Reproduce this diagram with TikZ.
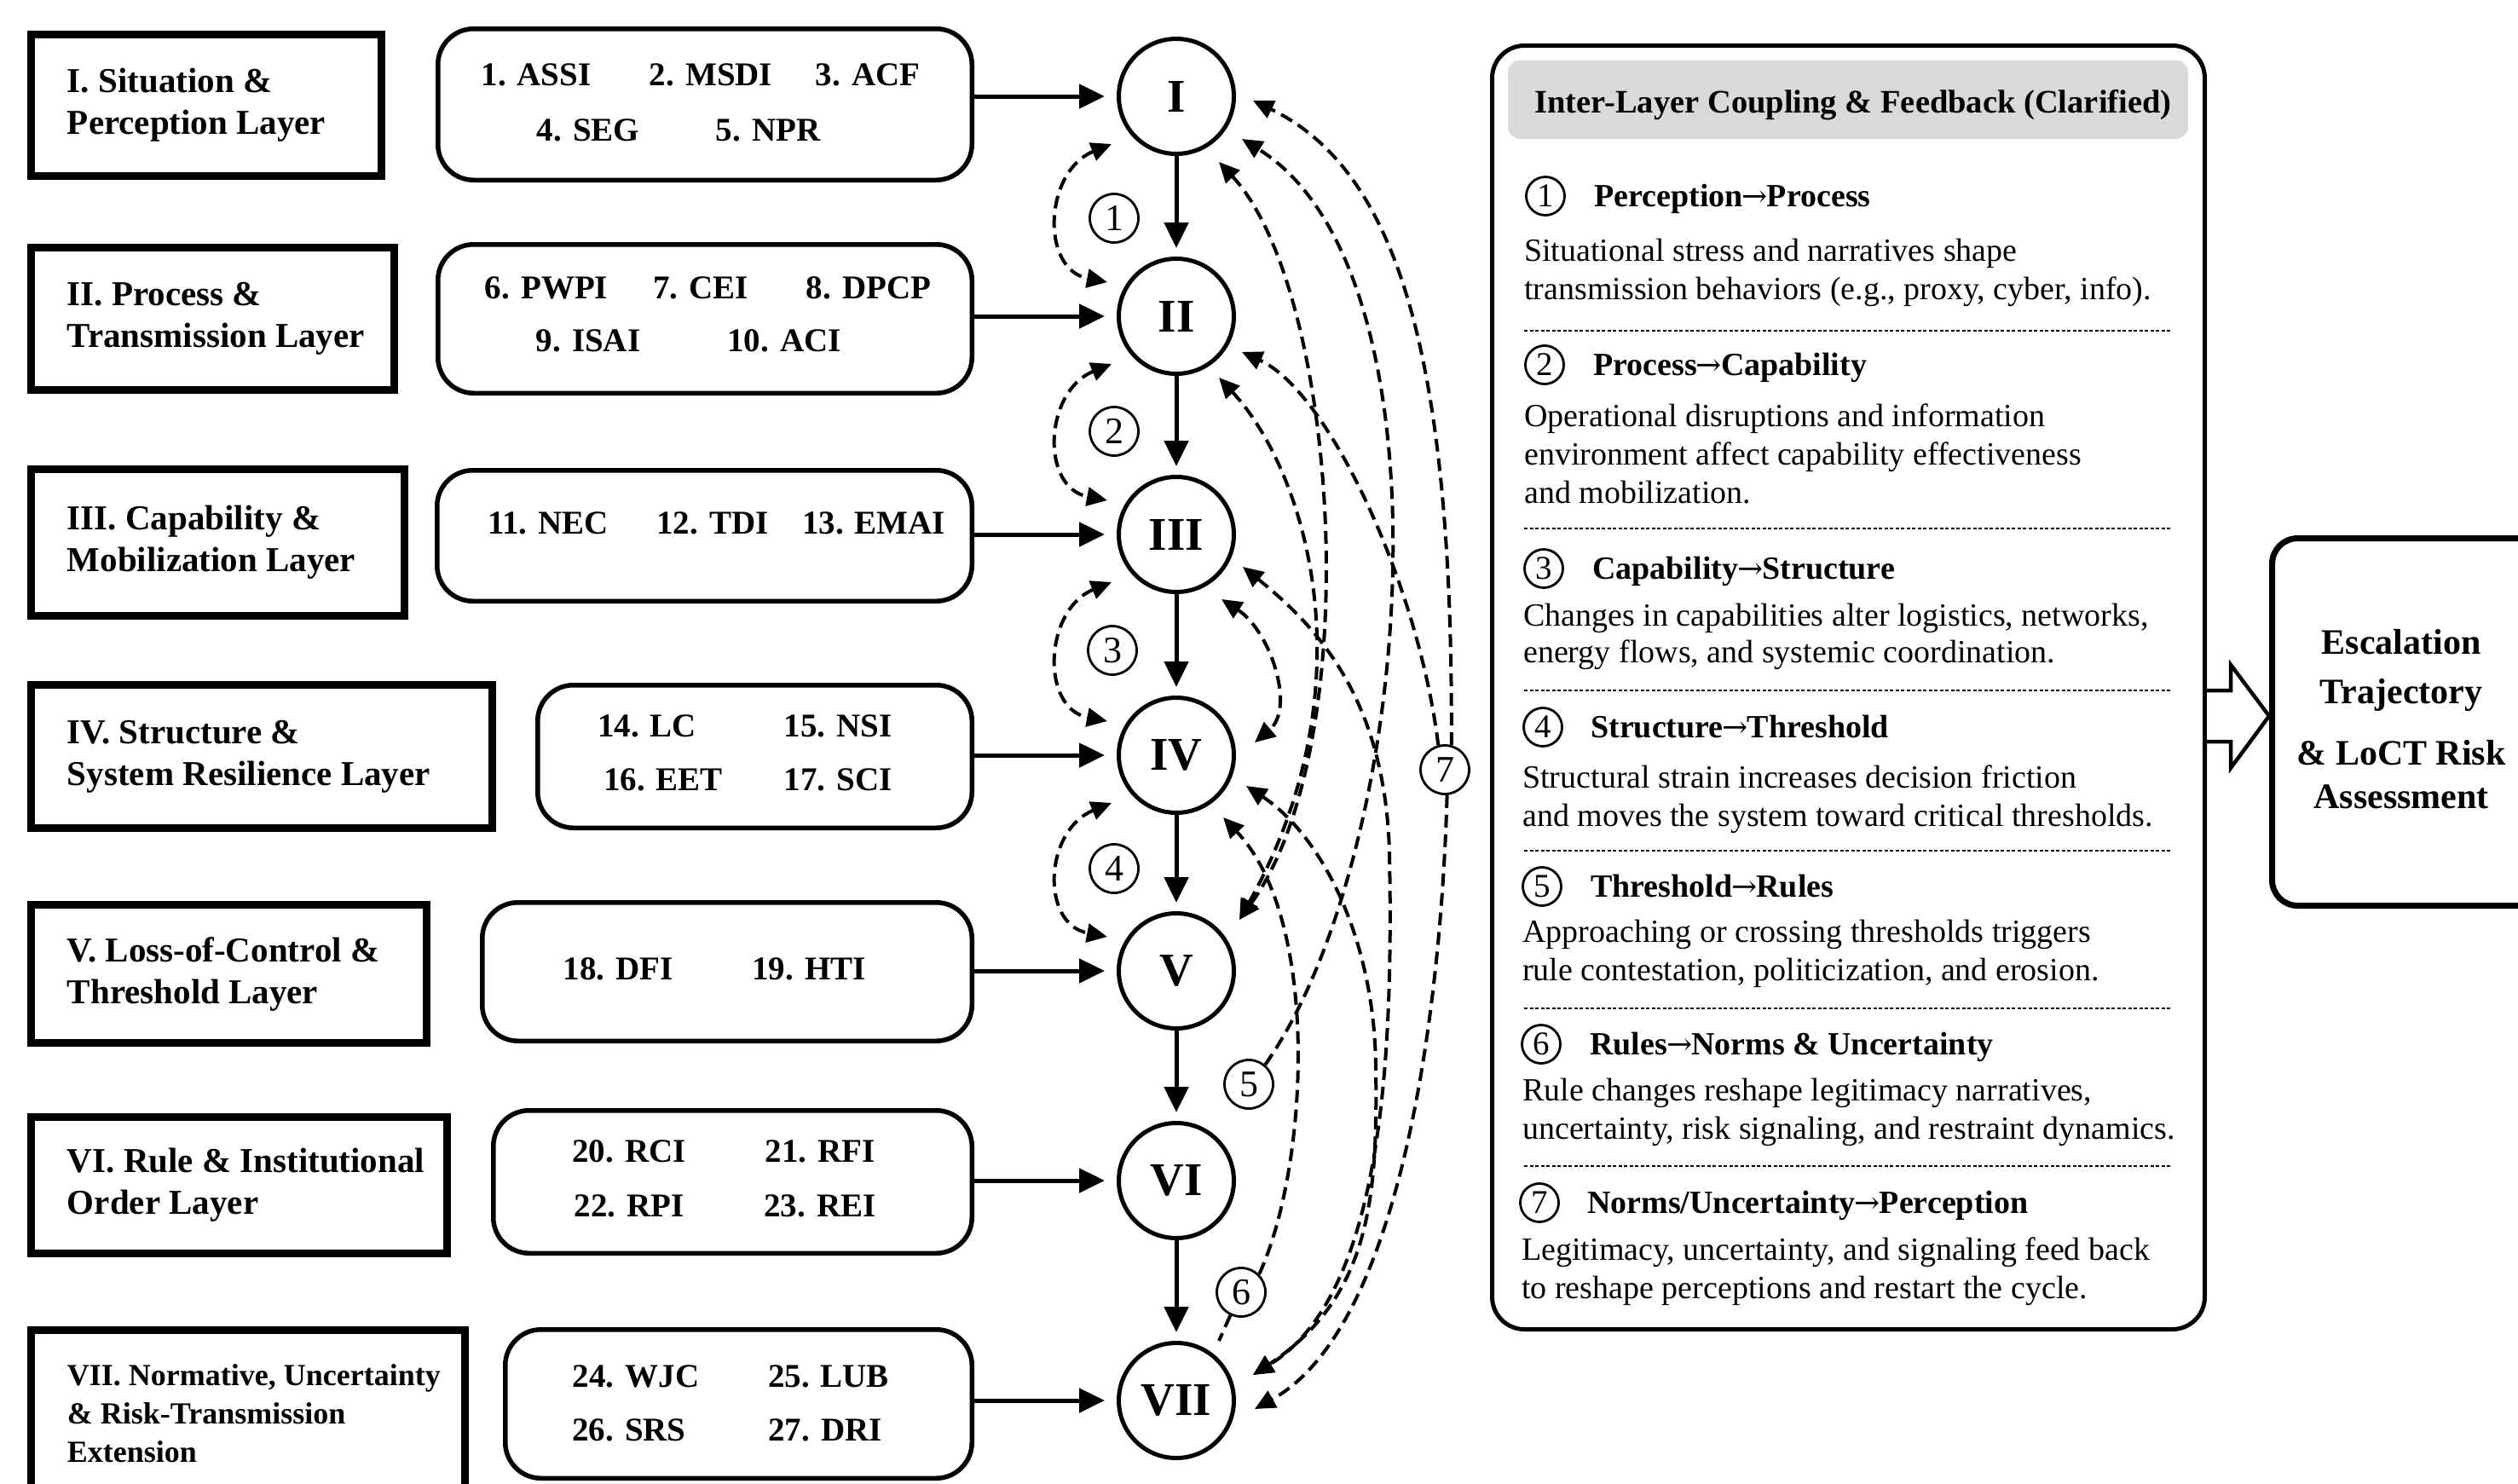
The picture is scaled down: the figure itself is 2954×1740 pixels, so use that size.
\documentclass[tikz,border=0pt]{standalone}
\usepackage{fontspec}
\setmainfont{Liberation Serif}
\newfontfamily\arrowfont{DejaVu Serif}
\usetikzlibrary{arrows.meta,calc}
\newcommand{\ra}{{\arrowfont\mdseries\fontsize{36}{40}\selectfont\kern-1pt →\kern-1pt}}
\tikzset{
 layerbox/.style={draw, line width=9.5pt, inner sep=0pt},
 layertext/.style={anchor=west, align=left, inner sep=0pt, font=\fontsize{41}{49}\selectfont\bfseries},
 idxbox/.style={draw, line width=5.5pt, rounded corners=42pt, inner sep=0pt},
 idx/.style={anchor=base, inner sep=0pt, font=\fontsize{39}{45}\selectfont\bfseries},
 layercirc/.style={draw, circle, line width=5pt, minimum size=135pt, inner sep=0pt, font=\fontsize{55}{60}\selectfont\bfseries},
 numc/.style={draw, circle, fill=white, line width=2.8pt, minimum size=57pt, inner sep=0pt, font=\fontsize{44}{48}\selectfont},
 pnum/.style={draw, circle, line width=2.8pt, minimum size=45pt, inner sep=0pt, font=\fontsize{39}{42}\selectfont},
 flow/.style={line width=5pt, -{Triangle[length=30pt,width=28pt]}},
 fb/.style={line width=4pt, dash pattern=on 15pt off 8pt, >={Triangle[length=24pt,width=22pt]}},
 ptitle/.style={anchor=base west, inner sep=0pt, font=\fontsize{38}{45}\selectfont\bfseries},
 pbody/.style={anchor=base west, inner sep=0pt, font=\fontsize{38}{45}\selectfont},
 sepline/.style={line width=2.8pt, dash pattern=on 4pt off 2.5pt},
 esc/.style={anchor=base, inner sep=0pt, font=\fontsize{42}{48}\selectfont\bfseries},
 blockarrow/.style={line width=4.5pt, fill=white, line join=miter},
}
\begin{document}
\begin{tikzpicture}[x=1pt,y=-1pt]
\useasboundingbox (0,0) rectangle (2954,1740);
\fill[white] (0,0) rectangle (2954,1740);

% ---------- layer boxes ----------
\node[layerbox, minimum width=411pt, minimum height=166pt] (L1) at (242,123.5) {};
\node[layerbox, minimum width=426pt, minimum height=167pt] (L2) at (249.5,374) {};
\node[layerbox, minimum width=438pt, minimum height=172pt] (L3) at (255.5,636.5) {};
\node[layerbox, minimum width=541pt, minimum height=168pt] (L4) at (307,887.5) {};
\node[layerbox, minimum width=464pt, minimum height=162pt] (L5) at (268.5,1142.5) {};
\node[layerbox, minimum width=488pt, minimum height=160pt] (L6) at (280.5,1390.5) {};
\node[layerbox, minimum width=509pt, minimum height=195pt] (L7) at (291,1658) {};

\node[layertext] (T1) at ($(L1.west)+(47,0)$) {I. Situation \&\\Perception Layer};
\node[layertext] (T2) at ($(L2.west)+(47,0)$) {II. Process \&\\Transmission Layer};
\node[layertext] (T3) at ($(L3.west)+(47,0)$) {III. Capability \&\\Mobilization Layer};
\node[layertext] (T4) at ($(L4.west)+(47,0)$) {IV. Structure \&\\System Resilience Layer};
\node[layertext] (T5) at ($(L5.west)+(47,0)$) {V. Loss-of-Control \&\\Threshold Layer};
\node[layertext] (T6) at ($(L6.west)+(47,0)$) {VI. Rule \& Institutional\\Order Layer};
\node[layertext, font=\fontsize{36}{45}\selectfont\bfseries] (T7) at ($(L7.west)+(47,0)$) {VII. Normative, Uncertainty\\\& Risk-Transmission\\Extension};

% ---------- indicator boxes ----------
\node[idxbox, minimum width=626.5pt, minimum height=177.5pt] (R1) at (827,122.5) {};
\node[idxbox, minimum width=626.5pt, minimum height=174.5pt] (R2) at (827,374) {};
\node[idxbox, minimum width=627.5pt, minimum height=153.5pt] (R3) at (826.5,628.5) {};
\node[idxbox, minimum width=509.5pt, minimum height=167.5pt] (R4) at (885.5,887.5) {};
\node[idxbox, minimum width=574.5pt, minimum height=162.5pt] (R5) at (853,1140) {};
\node[idxbox, minimum width=561.5pt, minimum height=167.5pt] (R6) at (859.5,1386.5) {};
\node[idxbox, minimum width=547.5pt, minimum height=174.5pt] (R7) at (866.5,1647) {};

\node[idx] (i1) at (629,100) {1. ASSI};
\node[idx] (i2) at (834,100) {2. MSDI};
\node[idx] (i3) at (1018,100) {3. ACF};
\node[idx] (i4) at (690,165) {4. SEG};
\node[idx] (i5) at (901,165) {5. NPR};
\node[idx] (i6) at (641,350) {6. PWPI};
\node[idx] (i7) at (822,350) {7. CEI};
\node[idx] (i8) at (1019,350) {8. DPCP};
\node[idx] (i9) at (690,412) {9. ISAI};
\node[idx] (i10) at (920,412) {10. ACI};
\node[idx] (i11) at (643,626) {11. NEC};
\node[idx] (i12) at (836,626) {12. TDI};
\node[idx] (i13) at (1025,626) {13. EMAI};
\node[idx] (i14) at (759,864) {14. LC};
\node[idx] (i15) at (983,864) {15. NSI};
\node[idx] (i16) at (778,927) {16. EET};
\node[idx] (i17) at (983,927) {17. SCI};
\node[idx] (i18) at (725,1149) {18. DFI};
\node[idx] (i19) at (949,1149) {19. HTI};
\node[idx] (i20) at (738,1363) {20. RCI};
\node[idx] (i21) at (962,1363) {21. RFI};
\node[idx] (i22) at (738,1427) {22. RPI};
\node[idx] (i23) at (962,1427) {23. REI};
\node[idx] (i24) at (746,1627) {24. WJC};
\node[idx] (i25) at (972,1627) {25. LUB};
\node[idx] (i26) at (738,1690) {26. SRS};
\node[idx] (i27) at (968,1690) {27. DRI};

% ---------- layer circles ----------
\node[layercirc] (I) at (1380,113) {I};
\node[layercirc] (II) at (1380,371) {II};
\node[layercirc] (III) at (1380,627) {III};
\node[layercirc] (IV) at (1380,886) {IV};
\node[layercirc] (V) at (1380,1139) {V};
\node[layercirc] (VI) at (1380,1385) {VI};
\node[layercirc] (VII) at (1380,1643) {VII};

% ---------- number labels ----------
\node[numc] (n1) at (1307,256) {1};
\node[numc] (n2) at (1307,506) {2};
\node[numc] (n3) at (1305,763) {3};
\node[numc] (n4) at (1307,1019) {4};
\node[numc] (n5) at (1465,1272) {5};
\node[numc] (n6) at (1456,1516) {6};
\node[numc] (n7) at (1695,903) {7};

% ---------- solid flows ----------
\foreach \r/\c in {R1/I,R2/II,R3/III,R4/IV,R5/V,R6/VI,R7/VII}
  \draw[flow, shorten >=14pt] (\r.east |- \c) -- (\c);
\foreach \a/\b in {I/II,II/III,III/IV,IV/V,V/VI,VI/VII}
  \draw[flow, shorten >=10pt] (\a) -- (\b);

% ---------- left coupling arcs ----------
\foreach \a/\b in {I/II,II/III,III/IV,IV/V}
  \draw[fb,<->] ($(\a)+(-76,56)$) .. controls ($(\a)+(-155,88)$) and ($(\b)+(-160,-55)$) .. ($(\b)+(-81,-40)$);

% ---------- right feedback curves ----------
\draw[fb,<->] ($(III)+(53,76)$) .. controls (1490,740) and (1520,830) .. ($(IV)+(92,-15)$);
\draw[fb,<->] ($(I)+(50,77)$) .. controls (1570,340) and (1605,870) .. ($(V)+(74,-60)$);
\draw[fb,<->] ($(II)+(50,72)$) .. controls (1530,550) and (1610,800) .. ($(V)+(74,-60)$);
\draw[fb,<->] ($(III)+(78,38)$) .. controls (1545,735) and (1625,820) .. (1630,1000)
   .. controls (1635,1250) and (1620,1520) .. ($(VII)+(90,-30)$);
\draw[fb,<->] ($(IV)+(82,36)$) .. controls (1550,980) and (1612,1100) .. (1614,1250)
   .. controls (1616,1400) and (1610,1520) .. ($(VII)+(90,-30)$);
\draw[fb,->] (n6.45) .. controls (1535,1370) and (1550,1080) .. ($(IV)+(55,73)$);
\draw[fb] (n6.245) -- ($(VII)+(50,-70)$);
\draw[fb,->] (n5.50) .. controls (1660,1000) and (1710,320) .. ($(I)+(77,50)$);
\draw[fb,->] (n7.75) .. controls (1705,420) and (1640,200) .. ($(I)+(90,5)$);
\draw[fb,->] (n7.105) .. controls (1665,690) and (1560,460) .. ($(II)+(77,42)$);
\draw[fb,->] (n7.-85) .. controls (1690,1200) and (1640,1560) .. ($(VII)+(92,10)$);

% ---------- right panel ----------
\node[draw, line width=5pt, rounded corners=38pt, minimum width=836pt, minimum height=1506pt, inner sep=0pt] (P) at (2168.5,806.5) {};
\node[fill=black!15, rounded corners=14pt, minimum width=798pt, minimum height=92pt, inner sep=0pt] (H) at (2168,117) {};
\node[anchor=base, inner sep=0pt, font=\fontsize{38.5}{45}\selectfont\bfseries] (HT) at (2174,132) {Inter-Layer Coupling \& Feedback (Clarified)};

\node[pnum] (q1) at (1813,230) {1};
\node[ptitle] (t1) at (1870,242) {Perception\ra Process};
\node[pbody] (b11) at (1788,306) {Situational stress and narratives shape};
\node[pbody] (b12) at (1788,351) {transmission behaviors (e.g., proxy, cyber, info).};
\draw[sepline] (1788,388) -- (2547,388);

\node[pnum] (q2) at (1812,428) {2};
\node[ptitle] (t2) at (1869,440) {Process\ra Capability};
\node[pbody] (b21) at (1788,500) {Operational disruptions and information};
\node[pbody] (b22) at (1788,545) {environment affect capability effectiveness};
\node[pbody] (b23) at (1788,590) {and mobilization.};
\draw[sepline] (1788,620) -- (2547,620);

\node[pnum] (q3) at (1811,667) {3};
\node[ptitle] (t3) at (1868,679) {Capability\ra Structure};
\node[pbody] (b31) at (1787,734) {Changes in capabilities alter logistics, networks,};
\node[pbody] (b32) at (1787,777) {energy flows, and systemic coordination.};
\draw[sepline] (1788,810) -- (2547,810);

\node[pnum] (q4) at (1810,853) {4};
\node[ptitle] (t4) at (1866,865) {Structure\ra Threshold};
\node[pbody] (b41) at (1786,924) {Structural strain increases decision friction};
\node[pbody] (b42) at (1786,969) {and moves the system toward critical thresholds.};
\draw[sepline] (1788,998) -- (2547,998);

\node[pnum] (q5) at (1809,1040) {5};
\node[ptitle] (t5) at (1866,1052) {Threshold\ra Rules};
\node[pbody] (b51) at (1786,1105) {Approaching or crossing thresholds triggers};
\node[pbody] (b52) at (1786,1150) {rule contestation, politicization, and erosion.};
\draw[sepline] (1788,1183) -- (2547,1183);

\node[pnum] (q6) at (1808,1225) {6};
\node[ptitle] (t6) at (1865,1237) {Rules\ra Norms \& Uncertainty};
\node[pbody] (b61) at (1786,1291) {Rule changes reshape legitimacy narratives,};
\node[pbody] (b62) at (1786,1336) {uncertainty, risk signaling, and restraint dynamics.};
\draw[sepline] (1788,1368) -- (2547,1368);

\node[pnum] (q7) at (1806,1411) {7};
\node[ptitle] (t7) at (1862,1423) {Norms/Uncertainty\ra Perception};
\node[pbody] (b71) at (1785,1478) {Legitimacy, uncertainty, and signaling feed back};
\node[pbody] (b72) at (1785,1523) {to reshape perceptions and restart the cycle.};

% ---------- escalation box ----------
\node[draw, line width=7pt, rounded corners=30pt, minimum width=321pt, minimum height=431pt, inner sep=0pt] (E) at (2826,847) {};
\node[esc] (e1) at (2817,767) {Escalation};
\node[esc] (e2) at (2817,825) {Trajectory};
\node[esc] (e3) at (2817,897) {\& LoCT Risk};
\node[esc] (e4) at (2817,948) {Assessment};

\draw[blockarrow] (P.east |- 0,810) -- (2617,810) -- (2617,780) -- (E.west |- 0,840) -- (2617,901) -- (2617,870) -- (P.east |- 0,870);
\end{tikzpicture}
\end{document}
